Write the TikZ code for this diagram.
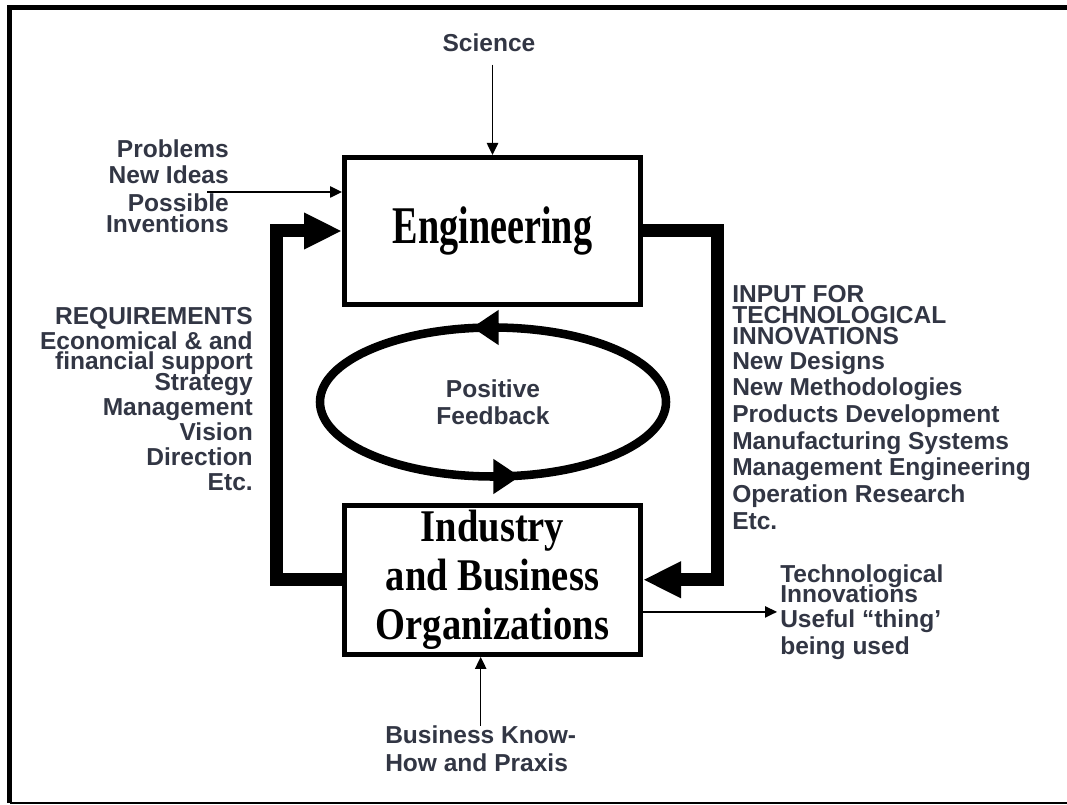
\documentclass[tikz,border=0pt]{standalone}
\usepackage{fontspec}
\setmainfont{Liberation Sans}
\newfontfamily\engfont{Liberation Serif}[FakeStretch=0.72]
\newfontfamily\orgfont{Liberation Serif}[FakeStretch=0.85]
\definecolor{labelgray}{RGB}{50,54,68}
\usetikzlibrary{arrows.meta,shapes.geometric}

\begin{document}
\begin{tikzpicture}[x=0.75pt,y=-0.75pt,
  box/.style={draw, line width=3.75pt, inner sep=0pt},
  lbl/.style={text=labelgray, inner sep=0pt, font=\bfseries\fontsize{18.4}{19.5}\selectfont},
  thinarrow/.style={line width=1.1pt, -{Triangle[length=9pt,width=8.5pt]}},
  fbline/.style={line width=9.75pt, -{Triangle[length=28.5pt,width=25.5pt]}},
  looptip/.style={line width=6.4pt, -{Triangle[length=20pt,width=25pt]}}]
  \useasboundingbox (0,0) rectangle (1067,805);
  \draw[line width=3.75pt] (9.5,803) -- (9.5,7.5) -- (1067,7.5);
  \draw[line width=1pt] (9.5,803) -- (1067,803);

  \node[box, minimum width=222pt, minimum height=110.25pt,
        font=\engfont\bfseries\fontsize{39.75}{40}\selectfont] (eng) at (492.5,231) {Engineering};
  \node[box, minimum width=222pt, minimum height=112pt, align=center,
        font=\orgfont\bfseries\fontsize{34}{36.4}\selectfont] (ind) at (492.5,579.75) {Industry\\and Business\\Organizations};
  \node[lbl, draw=black, ellipse, line width=6.4pt, minimum width=259.5pt, minimum height=111.75pt,
        outer sep=0pt, align=center] (loop) at (493,402) {Positive\\[0.75pt]Feedback};

  \node[lbl, anchor=base] (sci) at (489,52) {Science};
  \node[lbl, align=right, anchor=north east] (prob) at (229,139)
    {Problems\\[0.5pt]New Ideas\\[1.2pt]Possible\\[-3.5pt]Inventions};
  \node[lbl, align=right, anchor=north east] (req) at (253,307.5)
    {REQUIREMENTS\\[-0.75pt]Economical \& and\\[-5pt]financial support\\[-3.5pt]Strategy\\[-0.75pt]Management\\[-0.75pt]Vision\\[-0.75pt]Direction\\[-0.75pt]Etc.};
  \node[lbl, align=left, anchor=north west] (tin) at (732,285.5)
    {INPUT FOR\\[-4pt]TECHNOLOGICAL\\[-4pt]INNOVATIONS\\[-0.75pt]New Designs\\[0.5pt]New Methodologies\\[0.5pt]Products Development\\[0.5pt]Manufacturing Systems\\[0.5pt]Management Engineering\\[0.5pt]Operation Research\\[0.5pt]Etc.};
  \node[lbl, align=left, anchor=north west] (tech) at (780,564)
    {Technological\\[-4pt]Innovations\\[-0.75pt]Useful “thing’\\[0.5pt]being used};
  \node[lbl, align=left, anchor=north west] (biz) at (385,725.5)
    {Business Know-\\[1.3pt]How and Praxis};

  \coordinate (probin) at (207,192);
  \draw[thinarrow, shorten <=9pt] (sci.south -| eng.north) -- (eng.north);
  \draw[thinarrow] (probin) -- (probin -| eng.west);
  \draw[thinarrow] (biz.north) -- (biz.north |- ind.south);
  \draw[thinarrow, shorten >=2.25pt] (tech.west -| ind.east) -- (tech.west);

  \draw[fbline] (ind.west) -- ++(-66,0) |- (eng.west);
  \draw[fbline] (eng.east) -- ++(74,0) |- (ind.east);
  \draw[looptip] ([xshift=4.5pt]loop.north) -- ([xshift=-15.75pt]loop.north);
  \draw[looptip] ([xshift=1.5pt]loop.south) -- ([xshift=20.25pt]loop.south);
\end{tikzpicture}
\end{document}
